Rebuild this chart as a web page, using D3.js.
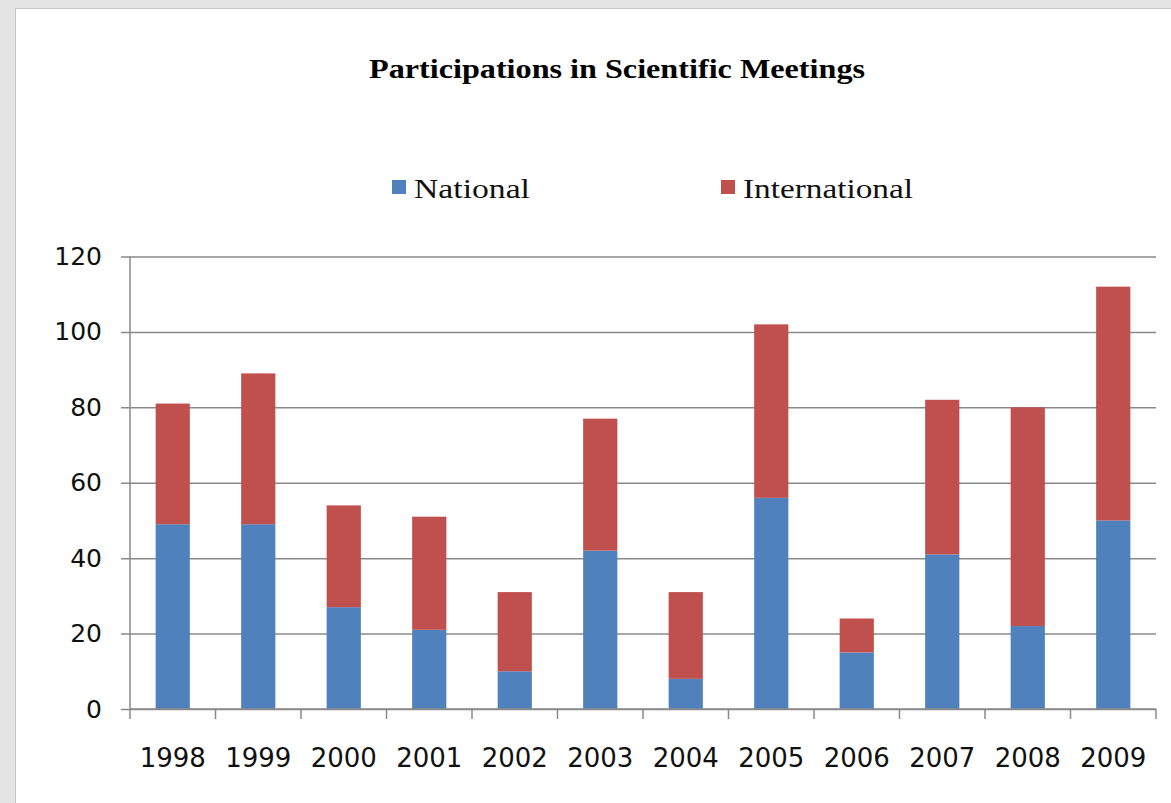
<!DOCTYPE html>
<html>
<head>
<meta charset="utf-8">
<script src="https://cdn.jsdelivr.net/npm/d3@7"></script>
<style>
  body { margin: 0; background: #e4e4e4; }
  svg { display: block; }
</style>
</head>
<body>
<div id="chart-area"></div>
<script>
// data
var years = ["1998", "1999", "2000", "2001", "2002", "2003", "2004", "2005", "2006", "2007", "2008", "2009"];
var national = [49, 49, 27, 21, 10, 42, 8, 56, 15, 41, 22, 50];
var international = [32, 40, 27, 30, 21, 35, 23, 46, 9, 41, 58, 62];
var yTicks = [0, 20, 40, 60, 80, 100, 120];
var seriesNames = ["National", "International"];
var colors = ["#4f81bd", "#c0504d"];

var W = 1171, H = 803;
var margin = {left: 130, right: 15, top: 256.5, bottom: 94};
var width = W - margin.left - margin.right;
var height = H - margin.top - margin.bottom;

var svg = d3.select("#chart-area")
  .append("svg")
    .attr("width", W)
    .attr("height", H);

// white panel
svg.append("rect")
    .attr("x", 15.5).attr("y", 8.5)
    .attr("width", W).attr("height", H)
    .attr("fill", "#fff")
    .attr("stroke", "#c4c4c4");

var rows = years.map((y, i) => ({year: y, National: national[i], International: international[i]}));
var stacked = d3.stack().keys(seriesNames)(rows);

var g = svg.append("g")
    .attr("transform", "translate(" + margin.left + ", " + margin.top + ")");

var x = d3.scaleBand()
    .domain(years)
    .range([0, width])
    .paddingInner(0.6)
    .paddingOuter(0.3);

var y = d3.scaleLinear()
    .domain([0, 120])
    .range([height, 0]);

// gridlines + left axis
var yAxisCall = d3.axisLeft(y)
    .tickValues(yTicks)
    .tickSize(-width)
    .tickPadding(28);
var ya = g.append("g")
    .attr("class", "left axis")
    .call(yAxisCall);
ya.select(".domain").remove();
ya.selectAll(".tick line")
    .attr("x1", -9)
    .attr("stroke", "#8a8a8a")
    .attr("stroke-width", 1.5);
ya.selectAll("text")
    .attr("font-family", "'DejaVu Sans', sans-serif")
    .attr("font-size", "25px")
    .attr("fill", "#111");

// bars
g.selectAll("g.series").data(stacked)
  .enter().append("g")
    .attr("class", "series")
    .attr("fill", (d, i) => colors[i])
  .selectAll("rect").data((d) => d)
  .enter().append("rect")
    .attr("x", (d) => x(d.data.year))
    .attr("y", (d) => y(d[1]))
    .attr("width", x.bandwidth())
    .attr("height", (d) => y(d[0]) - y(d[1]));

// vertical axis line
g.append("line")
    .attr("x1", 0).attr("x2", 0)
    .attr("y1", 0).attr("y2", height)
    .attr("stroke", "#8a8a8a")
    .attr("stroke-width", 1.5);

// bottom axis with ticks between categories
var xb = d3.scaleLinear().domain([0, years.length]).range([0, width]);
var bottom = g.append("g")
    .attr("class", "bottom axis")
    .attr("transform", "translate(0, " + height + ")");
bottom.append("line")
    .attr("x1", 0).attr("x2", width)
    .attr("stroke", "#8a8a8a")
    .attr("stroke-width", 1.5);
bottom.selectAll("line.tick").data(d3.range(years.length + 1))
  .enter().append("line")
    .attr("class", "tick")
    .attr("x1", (d) => xb(d)).attr("x2", (d) => xb(d))
    .attr("y1", 0).attr("y2", 10)
    .attr("stroke", "#8a8a8a")
    .attr("stroke-width", 1.5);
bottom.selectAll("text").data(years)
  .enter().append("text")
    .attr("x", (d) => x(d) + x.bandwidth() / 2)
    .attr("y", 58)
    .attr("text-anchor", "middle")
    .attr("font-family", "'DejaVu Sans', sans-serif")
    .attr("font-size", "26px")
    .attr("fill", "#111")
    .text((d) => d);

// title
svg.append("text")
    .attr("x", 617)
    .attr("y", 78)
    .attr("text-anchor", "middle")
    .attr("font-family", "'Liberation Serif', serif")
    .attr("font-weight", "bold")
    .attr("font-size", "28px")
    .attr("textLength", 496)
    .attr("lengthAdjust", "spacingAndGlyphs")
    .attr("fill", "#000")
    .text("Participations in Scientific Meetings");

// legend
var legendX = [392, 721];
var legendLen = [116, 170];
var legend = svg.selectAll("g.legend").data(seriesNames)
  .enter().append("g")
    .attr("class", "legend")
    .attr("transform", (d, i) => "translate(" + legendX[i] + ", 0)");
legend.append("rect")
    .attr("x", 0).attr("y", 180)
    .attr("width", 14).attr("height", 14)
    .attr("fill", (d, i) => colors[i]);
legend.append("text")
    .attr("x", 22)
    .attr("y", 198)
    .attr("font-family", "'Liberation Serif', serif")
    .attr("font-size", "27px")
    .attr("textLength", (d, i) => legendLen[i])
    .attr("lengthAdjust", "spacingAndGlyphs")
    .attr("fill", "#111")
    .text((d) => d);
</script>
</body>
</html>
